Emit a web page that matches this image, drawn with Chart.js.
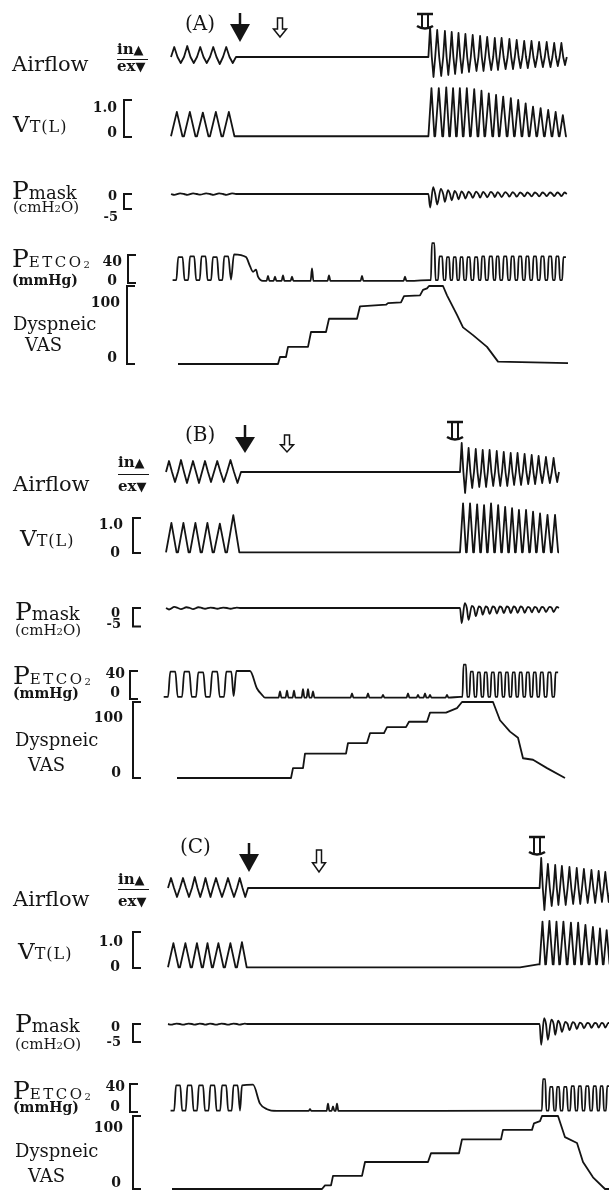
<!DOCTYPE html>
<html lang="en">
<head>
<meta charset="UTF-8">
<title>Breath-hold recordings</title>
<style>
  body { margin: 0; background: #fff; }
  #wrap { position: relative; width: 609px; height: 1191px; overflow: hidden; }
  #wrap canvas { position: absolute; left: 0; top: 0; }
  .lb { position: absolute; font-family: "DejaVu Serif", serif; color: #151515; line-height: 1; white-space: nowrap; }
  .num { font-weight: bold; }
  .rule { position: absolute; height: 0; border-top: 1.5px solid #151515; }
</style>
</head>
<body>
<div id="wrap"><canvas id="chart" width="609" height="1191"></canvas></div>

<script src="https://cdn.jsdelivr.net/npm/chart.js"></script>
<script>
// time axis in seconds from the start of each record

// ---------- panel A ----------
const breathsA_pre  = [-0.25, 3, 6.25, 9.5, 12.75, 16];
const breathsA_post = [64.1, 65.8, 67.8, 69.5, 71.2, 72.9, 74.7, 76.6, 78.3, 80.3, 81.9, 83.9, 85.7, 87.6, 89.4, 91.3, 93.2, 95.1, 96.9, 98.7];
const flowInA_pre  = [0.5, 0.55, 0.5, 0.5, 0.5];
const flowExA_pre  = [0.3, 0.3, 0.3, 0.35, 0.3];
const flowInA_post = [1.5, 1.35, 1.3, 1.25, 1.2, 1.15, 1.1, 1.05, 1.0, 0.95, 0.95, 0.9, 0.85, 0.8, 0.8, 0.75, 0.75, 0.7, 0.7];
const flowExA_post = [1.0, 0.95, 0.9, 0.85, 0.8, 0.75, 0.7, 0.7, 0.65, 0.65, 0.6, 0.6, 0.55, 0.55, 0.5, 0.5, 0.5, 0.45, 0.4];
const vtA_pre  = [0.68, 0.68, 0.66, 0.68, 0.68];
const vtA_post = [1.32, 1.32, 1.34, 1.32, 1.32, 1.32, 1.29, 1.25, 1.18, 1.14, 1.09, 1.05, 1.0, 0.91, 0.82, 0.78, 0.73, 0.68, 0.59];
const pmDipA_pre   = [-0.3, -0.3, -0.2, -0.3, -0.3];
const pmBumpA_pre  = [0.2, 0.2, 0.2, 0.2, 0.2];
const pmDipA_post  = [-4.5, -3.5, -2.6, -2.1, -1.8, -1.5, -1.3, -1.2, -1.1, -1.0, -1.0, -0.9, -0.9, -0.8, -0.8, -0.8, -0.7, -0.7, -0.7];
const pmBumpA_post = [2.3, 1.7, 1.3, 1.0, 0.9, 0.8, 0.8, 0.7, 0.7, 0.6, 0.6, 0.6, 0.5, 0.5, 0.5, 0.5, 0.5, 0.5, 0.5];
const co2CyclesA_pre = [0, 3, 5.9, 8.75, 11.6, 14.4];
const co2TopA_pre  = [37, 38, 38, 37, 38];
const co2TailA     = [[14.75, 5], [15.5, 41], [18.5, 37], [19.5, 24], [20.25, 16], [21, 19], [21.5, 9], [22.75, 3]];
const co2SpikeA_t  = [24, 25.75, 27.75, 30, 35, 39.25, 47.5, 58.25];
const co2SpikeA_v  = [10, 9, 11, 9, 21, 11, 10, 9];
const co2TopA_post = [57, 38, 37, 37, 37, 37, 37, 38, 38, 38, 38, 38, 38, 38, 38, 38, 38, 38, 37];
const co2LowA = 4, co2BaseA = 3;
const vasA = [[1.5, 0], [26.5, 0], [27, 9], [28.5, 9], [29, 22], [34, 22], [34.75, 41], [38.5, 41], [39.25, 58], [46.25, 58],
  [47, 74], [53.5, 76], [54, 78], [57.25, 79], [58, 87], [62, 88], [62.75, 95], [63.75, 97], [64.25, 100], [67.75, 100],
  [68.75, 88], [71.25, 63], [72.75, 47], [75.25, 37], [78.75, 22], [81.5, 3], [99, 1]];
const eventsA = { occlusion: 17, hollow: 27, release: 63.25 };

// ---------- panel B ----------
const breathsB_pre  = [-1.5, 1.5, 4.5, 7.5, 10.5, 13.75, 17.25];
const breathsB_post = [72, 73.7, 75.5, 77.25, 78.95, 80.75, 82.5, 84.25, 85.95, 87.7, 89.5, 91.2, 93, 94.95, 96.75];
const flowInB_pre  = [0.55, 0.6, 0.55, 0.55, 0.55, 0.6];
const flowExB_pre  = [0.5, 0.55, 0.55, 0.5, 0.5, 0.55];
const flowInB_post = [1.45, 1.2, 1.15, 1.1, 1.1, 1.05, 1.0, 0.95, 0.95, 0.9, 0.85, 0.8, 0.75, 0.7];
const flowExB_post = [1.05, 0.8, 0.75, 0.75, 0.7, 0.7, 0.7, 0.65, 0.65, 0.6, 0.6, 0.55, 0.55, 0.5];
const vtB_pre  = [0.86, 0.86, 0.86, 0.86, 0.84, 1.08];
const vtB_post = [1.42, 1.42, 1.39, 1.37, 1.42, 1.37, 1.32, 1.28, 1.23, 1.23, 1.18, 1.13, 1.09, 1.09];
const pmDipB_pre   = [-0.4, -0.3, -0.3, -0.2, -0.2, -0.2];
const pmBumpB_pre  = [0.3, 0.2, 0.2, 0.1, 0.1, 0.1];
const pmDipB_post  = [-4.1, -3.2, -2.2, -1.8, -1.6, -1.5, -1.4, -1.4, -1.3, -1.3, -1.2, -1.2, -1.1, -1.1];
const pmBumpB_post = [1.3, 0.6, 0.4, 0.4, 0.4, 0.4, 0.4, 0.4, 0.4, 0.3, 0.3, 0.3, 0.3, 0.3];
const co2CyclesB_pre = [-2.25, 1.25, 4.75, 8.25, 11.75, 15.25];
const co2TopB_pre  = [39, 39, 38, 39, 39];
const co2TailB     = [[15.4, 4], [16.1, 40], [19.5, 40], [21.25, 15], [22.5, 6], [23.25, 2]];
const co2SpikeB_t  = [27, 28.75, 30.5, 32.75, 34, 35.25, 45, 49, 52.75, 59, 61.5, 63.25, 64.5, 68.75];
const co2SpikeB_v  = [11, 12, 12, 14, 14, 11, 8, 8, 6, 8, 6, 8, 6, 6];
const co2TopB_post = [49, 39, 38, 38, 38, 38, 38, 38, 38, 38, 38, 38, 38, 38];
const co2LowB = 3, co2BaseB = 2;
const vasB = [[1.25, 0], [29.75, 0], [30.25, 13], [32.75, 13], [33.25, 32], [43.5, 32], [44, 46], [48.75, 46], [49.5, 59], [53, 59],
  [53.75, 67], [58.5, 67], [59.25, 74], [63.75, 74], [64.5, 86], [68.5, 86], [71.25, 92], [72.5, 100], [80.25, 100],
  [82, 76], [84.5, 61], [86.5, 53], [87.75, 26], [90.25, 24], [93.75, 13], [98.25, 0]];
const eventsB = { occlusion: 18.25, hollow: 28.75, release: 70.75 };

// ---------- panel C ----------
const breathsC_pre  = [-1, 2, 5, 7.75, 10.25, 13.25, 16.25, 19];
const breathsC_post = [91.9, 93.5, 95.4, 97, 98.9, 100.75, 102.5, 104.4, 106.25, 107.9, 109.6, 111.4];
const flowInC_pre  = [0.5, 0.5, 0.55, 0.5, 0.5, 0.5, 0.5];
const flowExC_pre  = [0.45, 0.45, 0.45, 0.45, 0.45, 0.45, 0.45];
const flowInC_post = [1.5, 1.2, 1.15, 1.1, 1.05, 1.0, 0.95, 0.9, 0.85, 0.8, 0.75];
const flowExC_post = [1.1, 0.9, 0.85, 0.85, 0.8, 0.8, 0.75, 0.75, 0.7, 0.7, 0.7];
const vtC_pre  = [0.69, 0.69, 0.69, 0.69, 0.69, 0.69, 0.72];
const vtC_drift = [[87, 0.02], [91.9, 0.11]];
const vtC_post = [1.29, 1.31, 1.29, 1.29, 1.26, 1.26, 1.2, 1.14, 1.1, 1.05, 1.0];
const pmDipC_pre   = [-0.2, -0.2, -0.2, -0.2, -0.2, -0.2, -0.2];
const pmBumpC_pre  = [0.1, 0.1, 0.1, 0.1, 0.1, 0.1, 0.1];
const pmDipC_post  = [-5.8, -4.4, -3.0, -2.2, -1.7, -1.4, -1.2, -1.1, -1.0, -1.0, -0.9];
const pmBumpC_post = [1.6, 1.2, 0.9, 0.6, 0.5, 0.4, 0.3, 0.3, 0.3, 0.3, 0.3];
const co2CyclesC_pre = [-0.5, 2.4, 5.25, 8.1, 11, 13.9, 16.75];
const co2TopC_pre  = [38, 38, 38, 38, 38, 38];
const co2TailC     = [[17, 2], [17.5, 38], [20.25, 39], [22, 12], [23.75, 4], [26.25, 1.5]];
const co2SpikeC_t  = [34.5, 39, 40.25, 41.25];
const co2SpikeC_v  = [4, 12, 8, 12];
const co2TopC_post = [47, 36, 36, 36, 37, 37, 37, 37, 37, 37, 37];
const co2LowC = 2, co2BaseC = 1.5;
const vasC = [[0, 0], [37.5, 0], [38.25, 5], [39.75, 5], [40.25, 18], [47.5, 18], [48.25, 37], [64, 37], [64.75, 49], [71.75, 49],
  [72.5, 68], [82.25, 68], [82.75, 81], [90, 81], [90.5, 90], [92, 93], [92.5, 100], [96.5, 100], [98.25, 71],
  [101.25, 63], [102.75, 37], [105.25, 16], [108.25, 0], [110, 0]];
const eventsC = { occlusion: 19.25, hollow: 36.75, release: 91.25 };

// scale-bar ticks
const vtTicks = ['1.0', '0'];
const pmTicks = ['0', '-5'];
const co2Ticks = ['40', '0'];
const vasTicks = ['100', '0'];

// ---------- waveform builders (one cycle per listed breath) ----------
function flowWave(b, inn, ex) {
  const out = [];
  for (let i = 0; i < inn.length; i++) {
    const s = b[i], p = b[i + 1] - s;
    out.push([s, 0], [s + 0.25 * p, inn[i]], [s + 0.5 * p, 0], [s + 0.75 * p, -ex[i]]);
  }
  out.push([b[inn.length], 0]);
  return out;
}
function vtWave(b, vt, base) {
  const out = [];
  for (let i = 0; i < vt.length; i++) {
    const s = b[i], p = b[i + 1] - s;
    out.push([s, base], [s + 0.45 * p, vt[i]], [s + 0.88 * p, base]);
  }
  out.push([b[vt.length], base]);
  return out;
}
function pmWave(b, dip, bump) {
  const out = [];
  for (let i = 0; i < dip.length; i++) {
    const s = b[i], p = b[i + 1] - s;
    out.push([s, 0], [s + 0.25 * p, dip[i]], [s + 0.7 * p, bump[i]]);
  }
  out.push([b[dip.length], 0]);
  return out;
}
function co2Wave(b, top, low) {
  const out = [];
  for (let i = 0; i < top.length; i++) {
    const s = b[i], p = b[i + 1] - s;
    out.push([s + 0.05 * p, low], [s + 0.36 * p, low], [s + 0.52 * p, top[i]], [s + 0.88 * p, top[i]]);
  }
  return out;
}
function spikes(ts, vs, base) {
  const out = [];
  ts.forEach((t, i) => out.push([t - 0.35, base], [t, vs[i]], [t + 0.35, base]));
  return out;
}

// ---------- layout (pixel placement only) ----------
const H = 1191;
const calib = {
  Aflow: [0, 57, 1, 37],   Avt: [0, 137, 1, 100],  Apm: [0, 194, -5, 209],    Aco2: [0, 283, 40, 255],   Avas: [0, 364, 100, 286],
  Bflow: [0, 472, 1, 452], Bvt: [0, 553, 1, 518],  Bpm: [0, 608, -5, 626.5],  Bco2: [0, 699, 40, 671],   Bvas: [0, 778, 100, 702],
  Cflow: [0, 888, 1, 868], Cvt: [0, 968, 1, 932],  Cpm: [0, 1024, -5, 1042],  Cco2: [0, 1112, 40, 1084], Cvas: [0, 1189, 100, 1116]
};
function cal(v0, p0, v1, p1) {
  const k = (p0 - p1) / (v1 - v0);
  return { min: v0 - (H - p0) / k, max: v0 + p0 / k };
}
const brackets = [
  ['Avt', vtTicks, 124], ['Apm', pmTicks, 124], ['Aco2', co2Ticks, 128], ['Avas', vasTicks, 127],
  ['Bvt', vtTicks, 133], ['Bpm', pmTicks, 133], ['Bco2', co2Ticks, 130], ['Bvas', vasTicks, 133],
  ['Cvt', vtTicks, 133], ['Cpm', pmTicks, 133], ['Cco2', co2Ticks, 130], ['Cvas', vasTicks, 133]
];
const markers = [
  { ev: eventsA, arrow: [13, 24, 42], hollow: [18, 37], rel: [14, 29] },
  { ev: eventsB, arrow: [425, 437, 453], hollow: [435, 452], rel: [422, 440] },
  { ev: eventsC, arrow: [843, 854, 872], hollow: [850, 872], rel: [837, 855] }
];

function line(axis, pts, smooth) {
  return {
    yAxisID: axis,
    data: pts.map(p => ({ x: p[0], y: p[1] })),
    cubicInterpolationMode: smooth ? 'monotone' : 'default',
    tension: 0,
    borderColor: '#141414',
    borderWidth: 1.8,
    borderJoinStyle: 'round',
    pointRadius: 0,
    fill: false
  };
}

const datasets = [
  line('Aflow', flowWave(breathsA_pre, flowInA_pre, flowExA_pre).concat(flowWave(breathsA_post, flowInA_post, flowExA_post)), false),
  line('Avt', vtWave(breathsA_pre, vtA_pre, 0.02).concat(vtWave(breathsA_post, vtA_post, 0.02)), false),
  line('Apm', pmWave(breathsA_pre, pmDipA_pre, pmBumpA_pre).concat(pmWave(breathsA_post, pmDipA_post, pmBumpA_post)), true),
  line('Aco2', co2Wave(co2CyclesA_pre, co2TopA_pre, co2LowA).concat(co2TailA, spikes(co2SpikeA_t, co2SpikeA_v, co2BaseA),
    co2Wave(breathsA_post, co2TopA_post, co2LowA)), true),
  line('Avas', vasA, false),

  line('Bflow', flowWave(breathsB_pre, flowInB_pre, flowExB_pre).concat(flowWave(breathsB_post, flowInB_post, flowExB_post)), false),
  line('Bvt', vtWave(breathsB_pre, vtB_pre, 0.02).concat(vtWave(breathsB_post, vtB_post, 0.02)), false),
  line('Bpm', pmWave(breathsB_pre, pmDipB_pre, pmBumpB_pre).concat(pmWave(breathsB_post, pmDipB_post, pmBumpB_post)), true),
  line('Bco2', co2Wave(co2CyclesB_pre, co2TopB_pre, co2LowB).concat(co2TailB, spikes(co2SpikeB_t, co2SpikeB_v, co2BaseB),
    co2Wave(breathsB_post, co2TopB_post, co2LowB)), true),
  line('Bvas', vasB, false),

  line('Cflow', flowWave(breathsC_pre, flowInC_pre, flowExC_pre).concat(flowWave(breathsC_post, flowInC_post, flowExC_post)), false),
  line('Cvt', vtWave(breathsC_pre, vtC_pre, 0.02).concat(vtC_drift, vtWave(breathsC_post, vtC_post, 0.1)), false),
  line('Cpm', pmWave(breathsC_pre, pmDipC_pre, pmBumpC_pre).concat(pmWave(breathsC_post, pmDipC_post, pmBumpC_post)), true),
  line('Cco2', co2Wave(co2CyclesC_pre, co2TopC_pre, co2LowC).concat(co2TailC, spikes(co2SpikeC_t, co2SpikeC_v, co2BaseC),
    co2Wave(breathsC_post, co2TopC_post, co2LowC)), true),
  line('Cvas', vasC, false)
];

const scales = { x: { type: 'linear', display: false, min: -3, max: 109.25 } };
Object.keys(calib).forEach(id => {
  const r = cal(...calib[id]);
  scales[id] = { type: 'linear', display: false, min: r.min, max: r.max };
});

// scale bars, occlusion arrows and release marks
const decor = {
  id: 'decor',
  afterDatasetsDraw(chart) {
    const ctx = chart.ctx, xs = chart.scales.x;
    ctx.save();
    ctx.strokeStyle = '#141414';
    ctx.fillStyle = '#141414';
    ctx.lineWidth = 2;
    brackets.forEach(([id, ticks, x]) => {
      const sc = chart.scales[id];
      const y1 = sc.getPixelForValue(parseFloat(ticks[0]));
      const y2 = sc.getPixelForValue(parseFloat(ticks[1]));
      ctx.beginPath();
      ctx.moveTo(x + 8, y1); ctx.lineTo(x, y1); ctx.lineTo(x, y2); ctx.lineTo(x + 8, y2);
      ctx.stroke();
    });
    markers.forEach(m => {
      // filled arrow: start of occlusion
      let x = xs.getPixelForValue(m.ev.occlusion);
      ctx.lineWidth = 2.5;
      ctx.beginPath(); ctx.moveTo(x, m.arrow[0]); ctx.lineTo(x, m.arrow[1] + 1); ctx.stroke();
      ctx.beginPath(); ctx.moveTo(x - 10, m.arrow[1]); ctx.lineTo(x + 10, m.arrow[1]); ctx.lineTo(x, m.arrow[2]); ctx.closePath(); ctx.fill();
      // hollow arrow
      x = xs.getPixelForValue(m.ev.hollow);
      const [t, b] = m.hollow, mid = t + (b - t) * 0.58;
      ctx.lineWidth = 1.5;
      ctx.beginPath();
      ctx.moveTo(x - 2.5, t); ctx.lineTo(x + 2.5, t); ctx.lineTo(x + 2.5, mid); ctx.lineTo(x + 6.5, mid);
      ctx.lineTo(x, b); ctx.lineTo(x - 6.5, mid); ctx.lineTo(x - 2.5, mid); ctx.closePath();
      ctx.stroke();
      // release mark
      x = xs.getPixelForValue(m.ev.release);
      const [rt, rb] = m.rel;
      ctx.lineWidth = 2.5;
      ctx.beginPath(); ctx.moveTo(x - 8, rt); ctx.lineTo(x + 8, rt); ctx.stroke();
      ctx.lineWidth = 2;
      ctx.beginPath(); ctx.moveTo(x - 3, rt); ctx.lineTo(x - 3, rb - 2); ctx.moveTo(x + 3, rt); ctx.lineTo(x + 3, rb - 2); ctx.stroke();
      ctx.lineWidth = 2.5;
      ctx.beginPath(); ctx.moveTo(x - 8, rb - 3); ctx.quadraticCurveTo(x, rb + 2, x + 8, rb - 3); ctx.stroke();
    });
    ctx.restore();
  }
};

new Chart(document.getElementById('chart'), {
  type: 'line',
  data: { datasets: datasets },
  options: {
    responsive: false,
    animation: false,
    events: [],
    layout: { padding: { left: 160, right: 0, top: 0, bottom: 0 } },
    plugins: { legend: { display: false }, tooltip: { enabled: false } },
    scales: scales
  },
  plugins: [decor]
});

// ---------- text labels ----------
const wrap = document.getElementById('wrap');
function put(html, x, base, size, o) {
  o = o || {};
  const d = document.createElement('div');
  d.className = 'lb' + (o.cls ? ' ' + o.cls : '');
  d.style.fontSize = size + 'px';
  d.style.top = (base - 0.846 * size) + 'px';
  if (o.right) { d.style.right = (609 - x) + 'px'; d.style.textAlign = 'right'; }
  else d.style.left = x + 'px';
  d.innerHTML = html;
  wrap.appendChild(d);
}
function rule(x, y, w) {
  const d = document.createElement('div');
  d.className = 'rule';
  d.style.left = x + 'px'; d.style.top = y + 'px'; d.style.width = w + 'px';
  wrap.appendChild(d);
}
const tri = s => '<span style="font-family:\'DejaVu Sans\';font-size:13px">' + s + '</span>';
const VT = 'V<span style="font-size:16px;letter-spacing:1px">T(L)</span>';
const PM = 'P<span style="font-size:18px">mask</span>';
const PCO2 = 'P<span style="font-size:15px;letter-spacing:2.5px">ETCO</span><span style="font-size:10px;position:relative;top:1px">2</span>';
const CMH2O = '(cmH<span style="font-size:10px">2</span>O)';

const panels = [
  { name: '(A)', nx: 185, nb: 30,
    flow: [12, 72], inex: [117, 55, 72, 59], vt: [13, 132], vtT: [117, 112, 117, 137],
    pm: [12, 199], cm: [13, 213], pmT: [117, 200, 118, 221],
    co2: [12, 267], mm: [12, 285], co2T: [122, 266, 117, 285],
    vas: [13, 330, 25, 351], vasT: [120, 307, 117, 362] },
  { name: '(B)', nx: 185, nb: 441,
    flow: [13, 492], inex: [118, 468, 492, 474], vt: [20, 546], vtT: [123, 529, 120, 557],
    pm: [15, 620], cm: [15, 636], pmT: [120, 617, 121, 628],
    co2: [13, 684], mm: [13, 698], co2T: [125, 678, 120, 697],
    vas: [15, 746, 28, 771], vasT: [123, 722, 121, 777] },
  { name: '(C)', nx: 180, nb: 853,
    flow: [13, 907], inex: [118, 885, 907, 889], vt: [18, 959], vtT: [123, 946, 120, 971],
    pm: [15, 1032], cm: [15, 1050], pmT: [120, 1031, 121, 1046],
    co2: [13, 1099], mm: [13, 1112], co2T: [125, 1091, 120, 1111],
    vas: [15, 1157, 28, 1182], vasT: [123, 1132, 121, 1187] }
];
panels.forEach(p => {
  put(p.name, p.nx, p.nb, 20);
  put('Airflow', p.flow[0], p.flow[1], 21);
  put('in' + tri('▲'), p.inex[0], p.inex[1], 15, { cls: 'num' });
  put('ex' + tri('▼'), p.inex[0], p.inex[2], 15, { cls: 'num' });
  rule(p.inex[0], p.inex[3], 31);
  put(VT, p.vt[0], p.vt[1], 23);
  put(vtTicks[0], p.vtT[0], p.vtT[1], 14, { right: true, cls: 'num' });
  put(vtTicks[1], p.vtT[2], p.vtT[3], 14, { right: true, cls: 'num' });
  put(PM, p.pm[0], p.pm[1], 25);
  put(CMH2O, p.cm[0], p.cm[1], 15);
  put(pmTicks[0], p.pmT[0], p.pmT[1], 13, { right: true, cls: 'num' });
  put(pmTicks[1], p.pmT[2], p.pmT[3], 13, { right: true, cls: 'num' });
  put(PCO2, p.co2[0], p.co2[1], 25);
  put('(mmHg)', p.mm[0], p.mm[1], 14, { cls: 'num' });
  put(co2Ticks[0], p.co2T[0], p.co2T[1], 14, { right: true, cls: 'num' });
  put(co2Ticks[1], p.co2T[2], p.co2T[3], 14, { right: true, cls: 'num' });
  put('Dyspneic', p.vas[0], p.vas[1], 18);
  put('VAS', p.vas[2], p.vas[3], 18);
  put(vasTicks[0], p.vasT[0], p.vasT[1], 14, { right: true, cls: 'num' });
  put(vasTicks[1], p.vasT[2], p.vasT[3], 14, { right: true, cls: 'num' });
});
</script>
</body>
</html>
